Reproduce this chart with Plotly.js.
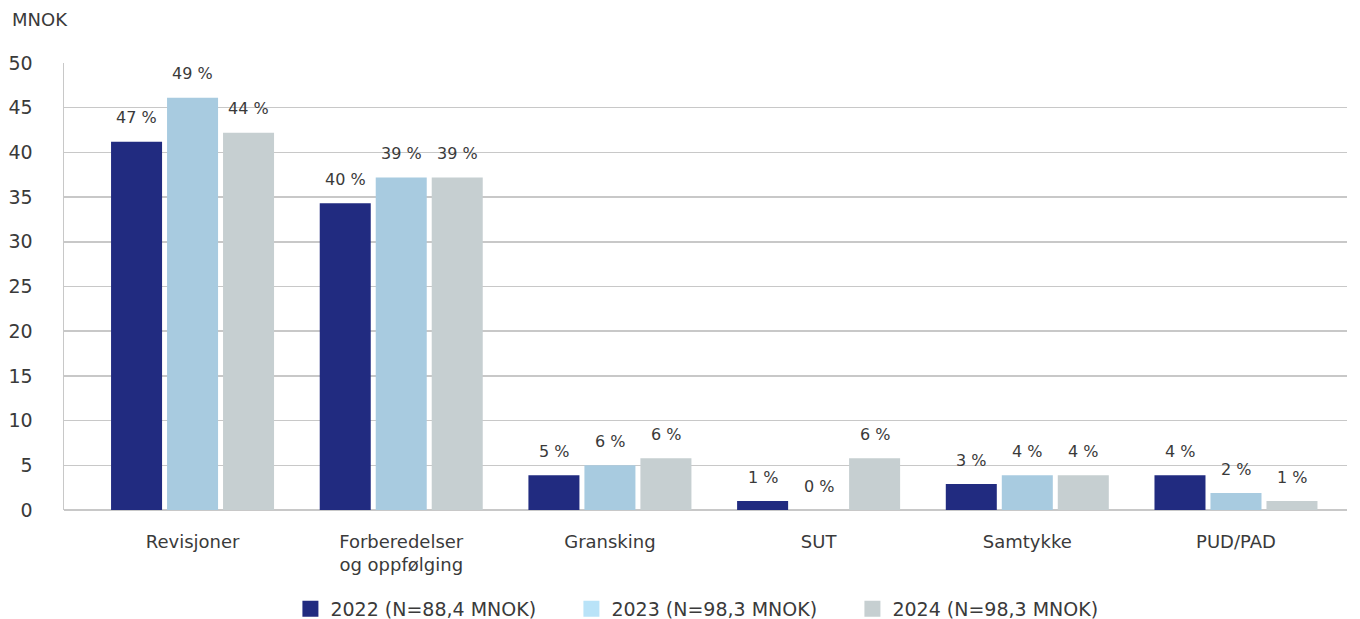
<!DOCTYPE html>
<html>
<head>
<meta charset="utf-8">
<script src="https://cdn.plot.ly/plotly-3.0.1.min.js"></script>
<style>html,body{margin:0;padding:0;background:#fff;}#chart{width:1360px;height:619px;}</style>
</head>
<body>
<div id="chart"></div>
<script>
const categories = ["Revisjoner", "Forberedelser<br>og oppfølging", "Gransking", "SUT", "Samtykke", "PUD/PAD"];
const seriesNames = ["2022 (N=88,4 MNOK)", "2023 (N=98,3 MNOK)", "2024 (N=98,3 MNOK)"];
const values2022 = [41.2, 34.3, 3.9, 1.0, 2.9, 3.9];
const values2023 = [46.1, 37.2, 5.0, 0.0, 3.9, 1.9];
const values2024 = [42.2, 37.2, 5.8, 5.8, 3.9, 1.0];
const pct2022 = ["47 %", "40 %", "5 %", "1 %", "3 %", "4 %"];
const pct2023 = ["49 %", "39 %", "6 %", "0 %", "4 %", "2 %"];
const pct2024 = ["44 %", "39 %", "6 %", "6 %", "4 %", "1 %"];
const yTicks = [0, 5, 10, 15, 20, 25, 30, 35, 40, 45, 50];

const barColors = ["#212b80", "#a8cbe0", "#c6cfd1"];
const legendColors = ["#212b80", "#b9e3f8", "#c6cfd1"];
const FONT = "DejaVu Sans, sans-serif";
const TXT = "#3a3a3a";

const allValues = [values2022, values2023, values2024];
const allPct = [pct2022, pct2023, pct2024];

const traces = [];
allValues.forEach((vals, i) => {
  traces.push({
    type: "bar", x: categories, y: vals, name: seriesNames[i],
    marker: {color: barColors[i]}, showlegend: false, hoverinfo: "skip"
  });
});
allValues.forEach((vals, i) => {
  traces.push({
    type: "scatter", mode: "markers", x: [null], y: [null], name: seriesNames[i],
    marker: {color: legendColors[i], symbol: "square", size: 16}, showlegend: true
  });
});

const shifts = [-56, 0, 56];
const annotations = [];
allValues.forEach((vals, i) => {
  vals.forEach((v, j) => {
    annotations.push({
      x: categories[j], y: v, xref: "x", yref: "y", text: allPct[i][j],
      showarrow: false, xshift: shifts[i], yshift: 24, yanchor: "middle",
      font: {family: FONT, size: 16, color: TXT}
    });
  });
});
annotations.push({
  x: 0, y: 1, xref: "paper", yref: "paper", text: "MNOK", showarrow: false,
  xanchor: "left", yanchor: "middle", xshift: -54, yshift: 44,
  font: {family: FONT, size: 18, color: TXT}
});

const layout = {
  width: 1360, height: 619,
  margin: {l: 64, r: 13, t: 63, b: 109},
  paper_bgcolor: "#fff", plot_bgcolor: "#fff",
  font: {family: FONT, color: TXT},
  barmode: "group", bargap: 0.195, bargroupgap: 0.089,
  xaxis: {
    type: "category", range: [-0.616, 5.532], automargin: false,
    showgrid: false, showline: false, zeroline: false,
    ticks: "outside", ticklen: 15, tickcolor: "rgba(0,0,0,0)",
    tickfont: {family: FONT, size: 18, color: TXT}
  },
  yaxis: {
    range: [0, 50], tickvals: yTicks, ticktext: yTicks.map(String), automargin: false,
    showgrid: true, gridcolor: "#c8c8c8", gridwidth: 1.5,
    zeroline: true, zerolinecolor: "#c8c8c8", zerolinewidth: 2,
    showline: true, linecolor: "#c8c8c8", linewidth: 1.5,
    ticks: "outside", ticklen: 26, tickcolor: "rgba(0,0,0,0)",
    tickfont: {family: FONT, size: 19, color: TXT}
  },
  legend: {
    orientation: "h", x: 0.505, xanchor: "center",
    yref: "container", y: 0.0162, yanchor: "middle",
    font: {family: FONT, size: 19, color: TXT}, itemwidth: 30,
    entrywidth: 236
  },
  annotations: annotations
};

Plotly.newPlot("chart", traces, layout, {displayModeBar: false, staticPlot: true});
</script>
</body>
</html>
